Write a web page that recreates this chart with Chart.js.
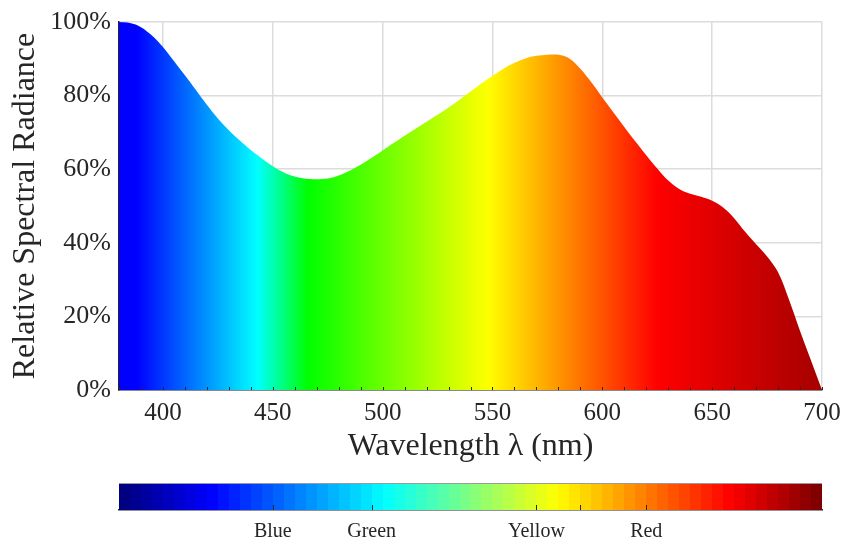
<!DOCTYPE html>
<html>
<head>
<meta charset="utf-8">
<title>Relative Spectral Radiance</title>
<script src="https://cdn.jsdelivr.net/npm/chart.js@4.4.1/dist/chart.umd.min.js"></script>
<style>
  body { margin: 0; background: #fff; }
  canvas { display: block; }
</style>
</head>
<body>
<canvas id="spectrum" width="846" height="470"></canvas>
<canvas id="colorbar" width="846" height="71"></canvas>
<script>
// wavelength samples (nm) and relative radiance (%)
const wavelengths = [
    380, 385, 390, 395, 400, 405, 410, 415, 420, 425, 430, 435, 440,
    445, 450, 455, 460, 465, 470, 475, 480, 485, 490, 495, 500, 505,
    510, 515, 520, 525, 530, 535, 540, 545, 550, 555, 560, 565, 570,
    575, 580, 585, 590, 595, 600, 605, 610, 615, 620, 625, 630, 635,
    640, 645, 650, 655, 660, 665, 670, 675, 680, 685, 690, 695, 700
];
const radiance = [
    100, 99.7, 98.6, 96.3, 93.2, 89.4, 85.5, 81.5, 77.5, 73.8, 70.6, 67.8, 65.2,
    62.9, 60.8, 59.1, 58.0, 57.4, 57.3, 57.5, 58.3, 59.6, 61.2, 63.1, 65.1, 67.1,
    69.1, 71.0, 72.9, 74.8, 76.8, 78.9, 81.1, 83.3, 85.4, 87.3, 88.9, 90.1, 90.8,
    91.1, 91.1, 90.1, 87.3, 83.6, 79.5, 75.5, 71.5, 67.6, 63.8, 60.2, 56.9, 54.6,
    53.3, 52.5, 51.4, 49.6, 46.7, 43.0, 39.6, 36.3, 32.0, 24.5, 16.0, 8.0, 0
];
const xTicks = [400, 450, 500, 550, 600, 650, 700];
const yTicks = [0, 20, 40, 60, 80, 100];

// colour bar below the plot
const bandRange = [380, 700];
const bandTicks = [450, 495, 570, 590, 620];
const bandLabels = ['Blue', 'Green', 'Yellow', '', 'Red'];

const textColor = '#262626';
const serif = '"Liberation Serif", "Times New Roman", serif';

// colour of the area fill at each wavelength
const spectrumStops = [
    [380, 'rgb(0,0,255)'],
    [388, 'rgb(0,0,255)'],
    [443, 'rgb(0,255,255)'],
    [466, 'rgb(0,255,0)'],
    [548, 'rgb(255,255,0)'],
    [625, 'rgb(255,0,0)'],
    [700, 'rgb(165,0,0)']
];

function spectrumGradient(chart) {
    const area = chart.chartArea;
    if (!area) return 'rgba(0,0,0,0)';
    const x = chart.scales.x;
    const x0 = x.getPixelForValue(380);
    const x1 = x.getPixelForValue(700);
    const g = chart.ctx.createLinearGradient(x0, 0, x1, 0);
    spectrumStops.forEach(s => {
        g.addColorStop((x.getPixelForValue(s[0]) - x0) / (x1 - x0), s[1]);
    });
    return g;
}

// 64-step jet colour map
function jetColor(t) {
    const c = v => Math.round(255 * Math.max(0, Math.min(1, v)));
    return `rgb(${c(1.5 - Math.abs(4 * t - 3))},${c(1.5 - Math.abs(4 * t - 2))},${c(1.5 - Math.abs(4 * t - 1))})`;
}

function jetGradient(chart) {
    const area = chart.chartArea;
    if (!area) return 'rgba(0,0,0,0)';
    const x = chart.scales.x;
    const g = chart.ctx.createLinearGradient(x.getPixelForValue(bandRange[0]), 0, x.getPixelForValue(bandRange[1]), 0);
    for (let i = 0; i < 64; i++) {
        const col = jetColor(i / 63);
        g.addColorStop(i / 64, col);
        g.addColorStop((i + 1) / 64, col);
    }
    return g;
}

// small ticks pointing into the plot, like the original
const insideTicks = {
    id: 'insideTicks',
    afterDatasetsDraw(chart, args, opts) {
        const ctx = chart.ctx;
        const area = chart.chartArea;
        const x = chart.scales.x;
        ctx.save();
        ctx.strokeStyle = textColor;
        ctx.lineWidth = 1;
        (opts.xValues || []).forEach(v => {
            const px = Math.round(x.getPixelForValue(v)) + 0.5;
            ctx.beginPath();
            ctx.moveTo(px, area.bottom);
            ctx.lineTo(px, area.bottom - opts.length);
            ctx.stroke();
        });
        if (opts.topLine) {
            ctx.strokeStyle = opts.topLine;
            ctx.beginPath();
            ctx.moveTo(area.left, area.top + 0.5);
            ctx.lineTo(area.right, area.top + 0.5);
            ctx.stroke();
        }
        ctx.restore();
    }
};

// keep tick labels from pushing the plot area inwards
function noLabelPadding(s) {
    s.paddingLeft = 0;
    s.paddingRight = 0;
    s.paddingTop = 0;
    s.paddingBottom = 0;
}

const minorTicks = [];
for (let v = 380; v <= 700; v += 10) minorTicks.push(v);

new Chart(document.getElementById('spectrum'), {
    type: 'line',
    data: {
        datasets: [{
            data: wavelengths.map((w, i) => ({ x: w, y: radiance[i] })),
            fill: 'origin',
            backgroundColor: ctx => spectrumGradient(ctx.chart),
            borderColor: 'rgba(0,0,0,0)',
            borderWidth: 0,
            pointRadius: 0,
            tension: 0.35
        }]
    },
    options: {
        responsive: false,
        animation: false,
        layout: { autoPadding: false, padding: { left: 6, right: 24, top: 22, bottom: 0 } },
        plugins: {
            legend: { display: false },
            tooltip: { enabled: false },
            insideTicks: { xValues: minorTicks, length: 3 }
        },
        scales: {
            x: {
                type: 'linear',
                min: 380,
                max: 700,
                afterBuildTicks: s => { s.ticks = xTicks.map(v => ({ value: v })); },
                ticks: { color: textColor, font: { family: serif, size: 25 }, padding: 8, maxRotation: 0 },
                grid: { color: '#dcdcdc', lineWidth: 1.5, drawTicks: false },
                border: { color: textColor, width: 1.5 },
                title: {
                    display: true,
                    text: 'Wavelength λ (nm)',
                    color: textColor,
                    font: { family: serif, size: 32 },
                    padding: { top: 3 }
                },
                afterFit: s => { s.height = 80; noLabelPadding(s); }
            },
            y: {
                min: 0,
                max: 100,
                afterBuildTicks: s => { s.ticks = yTicks.map(v => ({ value: v })); },
                ticks: { color: textColor, font: { family: serif, size: 26 }, padding: 8, callback: v => v + '%' },
                grid: { color: '#dcdcdc', lineWidth: 1.5, drawTicks: false },
                border: { color: textColor, width: 1.5 },
                title: {
                    display: true,
                    text: 'Relative Spectral Radiance',
                    color: textColor,
                    font: { family: serif, size: 32 },
                    padding: { top: 0, bottom: 0 }
                },
                afterFit: s => { s.width = 113; noLabelPadding(s); }
            }
        }
    },
    plugins: [insideTicks]
});

new Chart(document.getElementById('colorbar'), {
    type: 'bar',
    data: {
        labels: [''],
        datasets: [{
            data: [bandRange],
            backgroundColor: ctx => jetGradient(ctx.chart),
            borderWidth: 0,
            barPercentage: 1,
            categoryPercentage: 1
        }]
    },
    options: {
        indexAxis: 'y',
        responsive: false,
        animation: false,
        layout: { autoPadding: false, padding: { left: 119, right: 24, top: 13, bottom: 0 } },
        plugins: {
            legend: { display: false },
            tooltip: { enabled: false },
            insideTicks: { xValues: bandTicks, length: 5, topLine: '#9a9a9a' }
        },
        scales: {
            y: { display: false },
            x: {
                type: 'linear',
                min: bandRange[0],
                max: bandRange[1],
                afterBuildTicks: s => { s.ticks = bandTicks.map(v => ({ value: v })); },
                ticks: {
                    color: textColor,
                    font: { family: serif, size: 20 },
                    padding: 10,
                    maxRotation: 0,
                    autoSkip: false,
                    callback: (v, i) => bandLabels[i]
                },
                grid: { display: false, drawTicks: false },
                border: { color: textColor, width: 1.5 },
                afterFit: s => { s.height = 31; noLabelPadding(s); }
            }
        }
    },
    plugins: [insideTicks]
});
</script>
</body>
</html>
